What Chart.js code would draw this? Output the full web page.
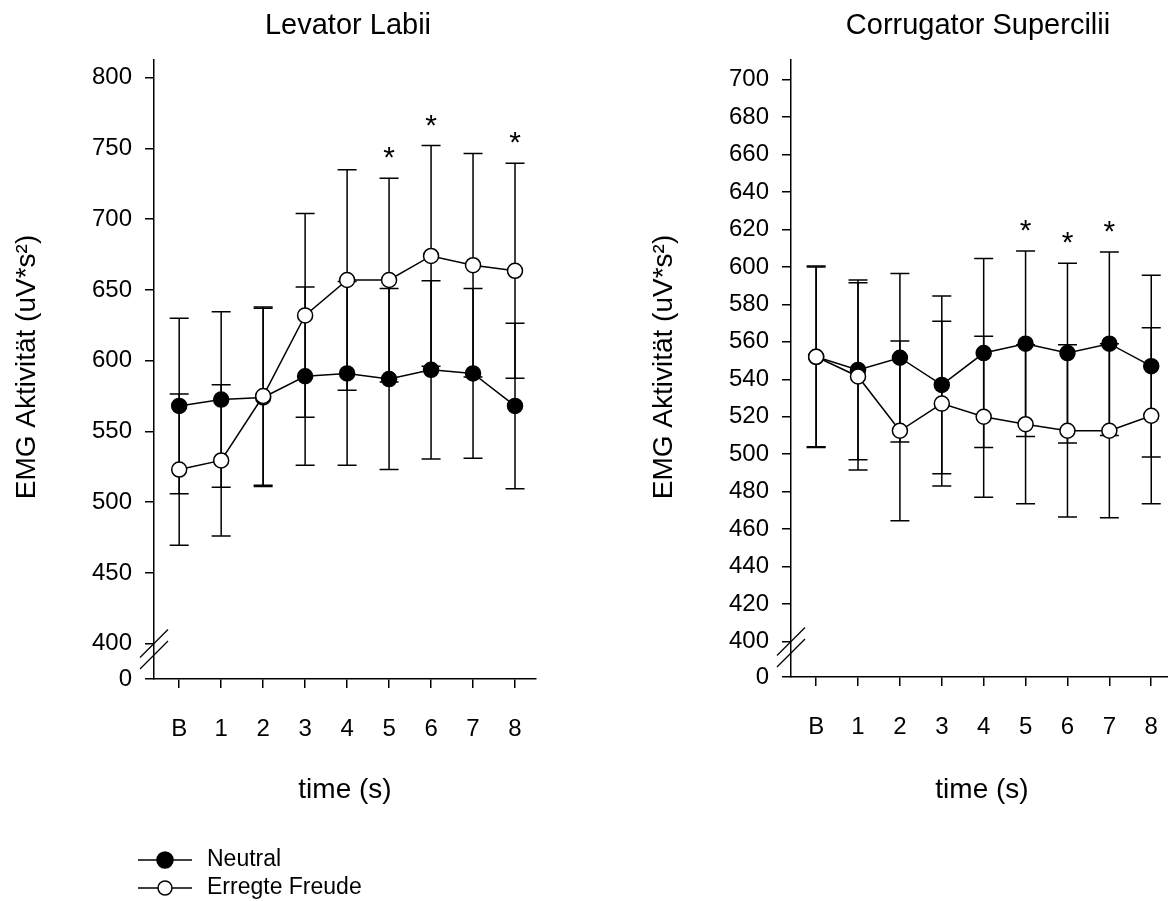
<!DOCTYPE html>
<html>
<head>
<meta charset="utf-8">
<script src="https://cdn.jsdelivr.net/npm/chart.js@4.4.0/dist/chart.umd.min.js"></script>
<style>
  body { margin: 0; background: #fff; }
  #wrap { position: relative; width: 1168px; height: 901px; overflow: hidden; }
  canvas { position: absolute; top: 0; }
</style>
</head>
<body>
<div id="wrap">
  <canvas id="labii" width="584" height="901" style="left:0px"></canvas>
  <canvas id="corr" width="584" height="901" style="left:584px"></canvas>
</div>
<script>
const timeLabels = ["B", "1", "2", "3", "4", "5", "6", "7", "8"];

// Levator Labii
const labiiNeutral = [568, 572.5, 574, 589, 591, 587, 593.5, 591, 568];
const labiiNeutralSd = [62, 62, 63, 63, 65, 64, 63, 60, 58.5];
const labiiFreude = [523, 529.5, 575, 632, 657, 657, 674, 667.5, 663.5];
const labiiFreudeSd = [53.5, 53.5, 63, 72, 78, 72, 78, 79, 76];
const labiiStars = [5, 6, 8];
const labiiTicks = [400, 450, 500, 550, 600, 650, 700, 750, 800];

// Corrugator Supercilii
const corrNeutral = [552, 545, 551.5, 537, 554, 559, 554, 559, 547];
const corrNeutralSd = [48, 48, 45, 47.5, 50.5, 49.5, 48, 49, 48.5];
const corrFreude = [552, 541.5, 512.5, 527, 520, 516, 512.5, 512.5, 520.5];
const corrFreudeSd = [48.5, 50, 48, 44, 43, 42.5, 46, 46.5, 47];
const corrStars = [5, 6, 7];
const corrTicks = [400, 420, 440, 460, 480, 500, 520, 540, 560, 580, 600, 620, 640, 660, 680, 700];

const FONT = '"Liberation Sans", Arial, sans-serif';
Chart.defaults.font.family = FONT;
Chart.defaults.color = "#000";

// error bars, asterisks, axis break, titles
function notesPlugin(o) {
  return {
    id: "notes",
    beforeDatasetsDraw(chart) {
      const { ctx, scales: { x, y } } = chart;
      ctx.save();
      ctx.strokeStyle = "#000";
      ctx.lineWidth = 1.5;
      [[o.neutral, o.neutralSd], [o.freude, o.freudeSd]].forEach(([m, sd]) => {
        m.forEach((v, i) => {
          const px = x.getPixelForValue(i);
          const top = y.getPixelForValue(v + sd[i]);
          const bot = y.getPixelForValue(v - sd[i]);
          ctx.beginPath();
          ctx.moveTo(px, top); ctx.lineTo(px, bot);
          ctx.moveTo(px - 9.5, top); ctx.lineTo(px + 9.5, top);
          ctx.moveTo(px - 9.5, bot); ctx.lineTo(px + 9.5, bot);
          ctx.stroke();
        });
      });
      ctx.restore();
    },
    afterDraw(chart) {
      const { ctx, chartArea: a, scales: { x, y } } = chart;
      ctx.save();
      ctx.fillStyle = "#000";
      ctx.strokeStyle = "#000";

      // axis break
      ctx.lineWidth = 1.2;
      [35.5, 24].forEach(d => {
        const yc = a.bottom - d;
        ctx.beginPath();
        ctx.moveTo(a.left - 14, yc + 14);
        ctx.lineTo(a.left + 14, yc - 14);
        ctx.stroke();
      });

      // asterisks
      ctx.font = "30px " + FONT;
      ctx.textAlign = "center";
      ctx.textBaseline = "alphabetic";
      o.stars.forEach(i => {
        const hi = Math.max(o.neutral[i] + o.neutralSd[i], o.freude[i] + o.freudeSd[i]);
        const py = y.getPixelForValue(hi) - 28;
        ctx.fillText("*", x.getPixelForValue(i), py + 17);
      });

      // titles
      ctx.font = "29px " + FONT;
      ctx.fillText(o.title, o.titleX, 34);
      ctx.font = "28px " + FONT;
      ctx.fillText("time (s)", o.xTitleX, 798);
      ctx.save();
      ctx.translate(o.yTitleX, 367);
      ctx.rotate(-Math.PI / 2);
      ctx.textBaseline = "middle";
      ctx.fillText("EMG Aktivität (uV*s²)", 0, 0);
      ctx.restore();

      // legend
      if (o.legend) {
        ctx.font = "23px " + FONT;
        ctx.textAlign = "left";
        ctx.textBaseline = "middle";
        ctx.lineWidth = 1.5;
        [["Neutral", 860, "#000", 8], ["Erregte Freude", 888, "#fff", 7]].forEach(([t, ly, fill, r]) => {
          ctx.beginPath();
          ctx.moveTo(138, ly); ctx.lineTo(192, ly);
          ctx.stroke();
          ctx.beginPath();
          ctx.arc(165, ly, r, 0, Math.PI * 2);
          ctx.fillStyle = fill;
          ctx.fill();
          ctx.stroke();
          ctx.fillStyle = "#000";
          ctx.fillText(t, 207, ly);
        });
      }
      ctx.restore();
    }
  };
}

function buildChart(id, o) {
  const ctx = document.getElementById(id).getContext("2d");
  return new Chart(ctx, {
    type: "line",
    data: {
      datasets: [
        {
          label: "Neutral",
          data: o.neutral.map((v, i) => ({ x: i, y: v })),
          borderColor: "#000",
          borderWidth: 1.5,
          pointRadius: 7.5,
          pointBorderWidth: 1.5,
          pointBackgroundColor: "#000",
          pointBorderColor: "#000",
          order: 1
        },
        {
          label: "Erregte Freude",
          data: o.freude.map((v, i) => ({ x: i, y: v })),
          borderColor: "#000",
          borderWidth: 1.5,
          pointRadius: 7.5,
          pointBorderWidth: 1.5,
          pointBackgroundColor: "#fff",
          pointBorderColor: "#000",
          order: 0
        }
      ]
    },
    options: {
      responsive: false,
      animation: false,
      layout: { padding: o.padding, autoPadding: false },
      plugins: { legend: { display: false }, tooltip: { enabled: false } },
      scales: {
        x: {
          type: "linear",
          min: -0.6,
          max: o.xMax,
          afterFit: s => { s.height = 60; s.paddingLeft = 0; s.paddingRight = 0; },
          afterBuildTicks: s => { s.ticks = timeLabels.map((_, i) => ({ value: i })); },
          ticks: {
            autoSkip: false,
            maxRotation: 0,
            padding: 27,
            font: { size: 24 },
            callback: v => timeLabels[v]
          },
          grid: { drawOnChartArea: false, tickLength: 9, color: "#000", lineWidth: 1.5 },
          border: { color: "#000", width: 1.5 }
        },
        y: {
          min: o.yMin,
          max: o.yMax,
          afterFit: s => { s.width = o.yWidth; s.paddingTop = 0; s.paddingBottom = 0; },
          afterBuildTicks: s => { s.ticks = [o.yMin, ...o.ticks].map(v => ({ value: v })); },
          ticks: {
            autoSkip: false,
            padding: 13,
            font: { size: 24 },
            callback: (v, i) => (i === 0 ? "0" : String(v))
          },
          grid: { drawOnChartArea: false, tickLength: 9, color: "#000", lineWidth: 1.5 },
          border: { color: "#000", width: 1.5 }
        }
      }
    },
    plugins: [notesPlugin(o)]
  });
}

buildChart("labii", {
  neutral: labiiNeutral, neutralSd: labiiNeutralSd,
  freude: labiiFreude, freudeSd: labiiFreudeSd,
  stars: labiiStars, ticks: labiiTicks,
  yMin: 375, yMax: 812.5, xMax: 8.5, yWidth: 154,
  padding: { left: 0, top: 60, right: 48, bottom: 162 },
  title: "Levator Labii", titleX: 348, xTitleX: 345, yTitleX: 27,
  legend: true
});

buildChart("corr", {
  neutral: corrNeutral, neutralSd: corrNeutralSd,
  freude: corrFreude, freudeSd: corrFreudeSd,
  stars: corrStars, ticks: corrTicks,
  yMin: 381, yMax: 710.5, xMax: 8.4, yWidth: 207,
  padding: { left: 0, top: 60, right: 0, bottom: 164 },
  title: "Corrugator Supercilii", titleX: 394, xTitleX: 398, yTitleX: 80,
  legend: false
});
</script>
</body>
</html>
